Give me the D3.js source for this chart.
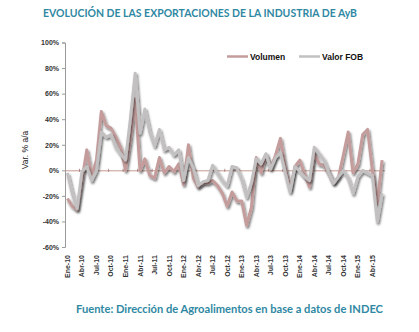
<!DOCTYPE html>
<html><head><meta charset="utf-8">
<script src="https://cdn.jsdelivr.net/npm/d3@7"></script>
<style>body{margin:0;background:#fff}svg{display:block}</style>
</head><body>
<svg id="c" width="419" height="332"></svg>
<script>
const months = ["Ene","Feb","Mar","Abr","May","Jun","Jul","Ago","Sep","Oct","Nov","Dic"];
const categories = [];
for (let yy = 10; yy <= 15; yy++) for (let m = 0; m < 12; m++) if (!(yy === 15 && m > 5)) categories.push(months[m] + "-" + yy);
const volumen = [-22,-28,-31,-8,16,-4,8,46,35,33,26,18,0,24,56,0,9,-4,-6,10,-2,3,-1,5,-11,20,-6,-13,-10,-10,-8,-12,-18,-28,-17,-24,-24,-43,-29,10,-2,12,2,12,25,2,-15,3,8,-3,-13,13,5,4,-2,-10,-5,12,30,-2,5,28,32,0,-26,8];
const valorFOB = [-2,-18,-30,-1,3,-8,0,30,26,28,18,13,8,40,76,29,48,30,19,32,16,18,12,16,-8,10,2,-12,-9,-8,4,-2,-8,-12,3,2,-7,-21,-10,9,5,13,1,10,14,-2,-17,3,-1,-5,-8,18,13,8,-2,-10,-5,0,-6,-18,-5,0,-2,-4,-40,-18];
const yTicks = [100,80,60,40,20,0,-20,-40,-60];
const xLabels = categories.filter((c,i) => i % 3 === 0);
const seriesNames = ["Volumen","Valor FOB"];

(function(){
const svg = d3.select("#c");
const L = 65, R = 384.5, T = 42.5, B = 247;
const x = d3.scaleBand().domain(categories).range([L, R]);
const y = d3.scaleLinear().domain([-60,100]).range([B, T]);
const teal = "#2f88a3";

const defs = svg.append("defs");
const f = defs.append("filter").attr("id","sh").attr("x","-10%").attr("y","-10%").attr("width","120%").attr("height","130%");
f.append("feDropShadow").attr("dx",1.2).attr("dy",2).attr("stdDeviation",1).attr("flood-color","#000").attr("flood-opacity",0.55);

svg.append("text").attr("x",43).attr("y",17)
  .attr("font-family","Lato").attr("font-weight","bold").attr("font-size",11).attr("fill",teal)
  .attr("textLength",314).attr("lengthAdjust","spacingAndGlyphs")
  .text("EVOLUCIÓN DE LAS EXPORTACIONES DE LA INDUSTRIA DE AyB");
svg.append("text").attr("x",76).attr("y",313)
  .attr("font-family","Lato").attr("font-weight","bold").attr("font-size",11.5).attr("fill",teal)
  .attr("textLength",307).attr("lengthAdjust","spacingAndGlyphs")
  .text("Fuente: Dirección de Agroalimentos en base a datos de INDEC");

const ya = svg.append("g").attr("transform",`translate(${L},0)`)
  .call(d3.axisLeft(y).tickValues(yTicks).tickSize(3).tickFormat(d => d + "%"));
ya.select(".domain").attr("stroke","#9a9a9a");
ya.selectAll(".tick line").attr("stroke","#9a9a9a");
ya.selectAll(".tick text").attr("font-family","Liberation Sans").attr("font-weight","bold").attr("font-size",7).attr("fill","#333").attr("x",-6);

svg.append("text").attr("transform","translate(28,150) rotate(-90)").attr("text-anchor","middle")
  .attr("font-family","Liberation Sans").attr("font-size",8.5).attr("fill","#222").text("Var. % a/a");

const za = svg.append("g").attr("transform",`translate(0,${y(0)})`)
  .call(d3.axisBottom(x).tickValues([]).tickSize(0));
za.select(".domain").attr("stroke","#c49a90").attr("stroke-width",1);
svg.append("g").selectAll("line").data(categories.filter((c,i)=> i%3===0 && i>0)).join("line")
  .attr("x1", d => x(d)).attr("x2", d => x(d)).attr("y1", y(0)-1.5).attr("y2", y(0)+1.5)
  .attr("stroke","#a07070").attr("stroke-width",0.8);

svg.append("g").selectAll("text").data(xLabels).join("text")
  .attr("transform", d => `translate(${x(d)+x.bandwidth()/2+2.5},255) rotate(-90)`)
  .attr("text-anchor","end").attr("font-family","Liberation Sans").attr("font-weight","bold")
  .attr("font-size",7).attr("fill","#333").text(d => d);

const line = d3.line().x((d,i) => x(categories[i]) + x.bandwidth()/2).y(d => y(d));
const colors = ["#c49c9c","#c2c0c0"];
[volumen, valorFOB].forEach((s,k) => {
  svg.append("path").datum(s).attr("d", line).attr("fill","none")
    .attr("stroke", colors[k]).attr("stroke-width",3).attr("stroke-linejoin","round")
    .attr("filter","url(#sh)");
});

const lg = svg.append("g");
[[227,250],[299,322]].forEach((p,k) => {
  lg.append("line").attr("x1",p[0]).attr("x2",p[0]+21).attr("y1",56.5).attr("y2",56.5)
    .attr("stroke",colors[k]).attr("stroke-width",2.5);
  lg.append("text").attr("x",p[1]).attr("y",59.5).attr("font-family","Liberation Sans").attr("font-weight","bold")
    .attr("font-size",8.5).attr("fill","#111").text(seriesNames[k]);
});
})();
</script>
</body></html>
